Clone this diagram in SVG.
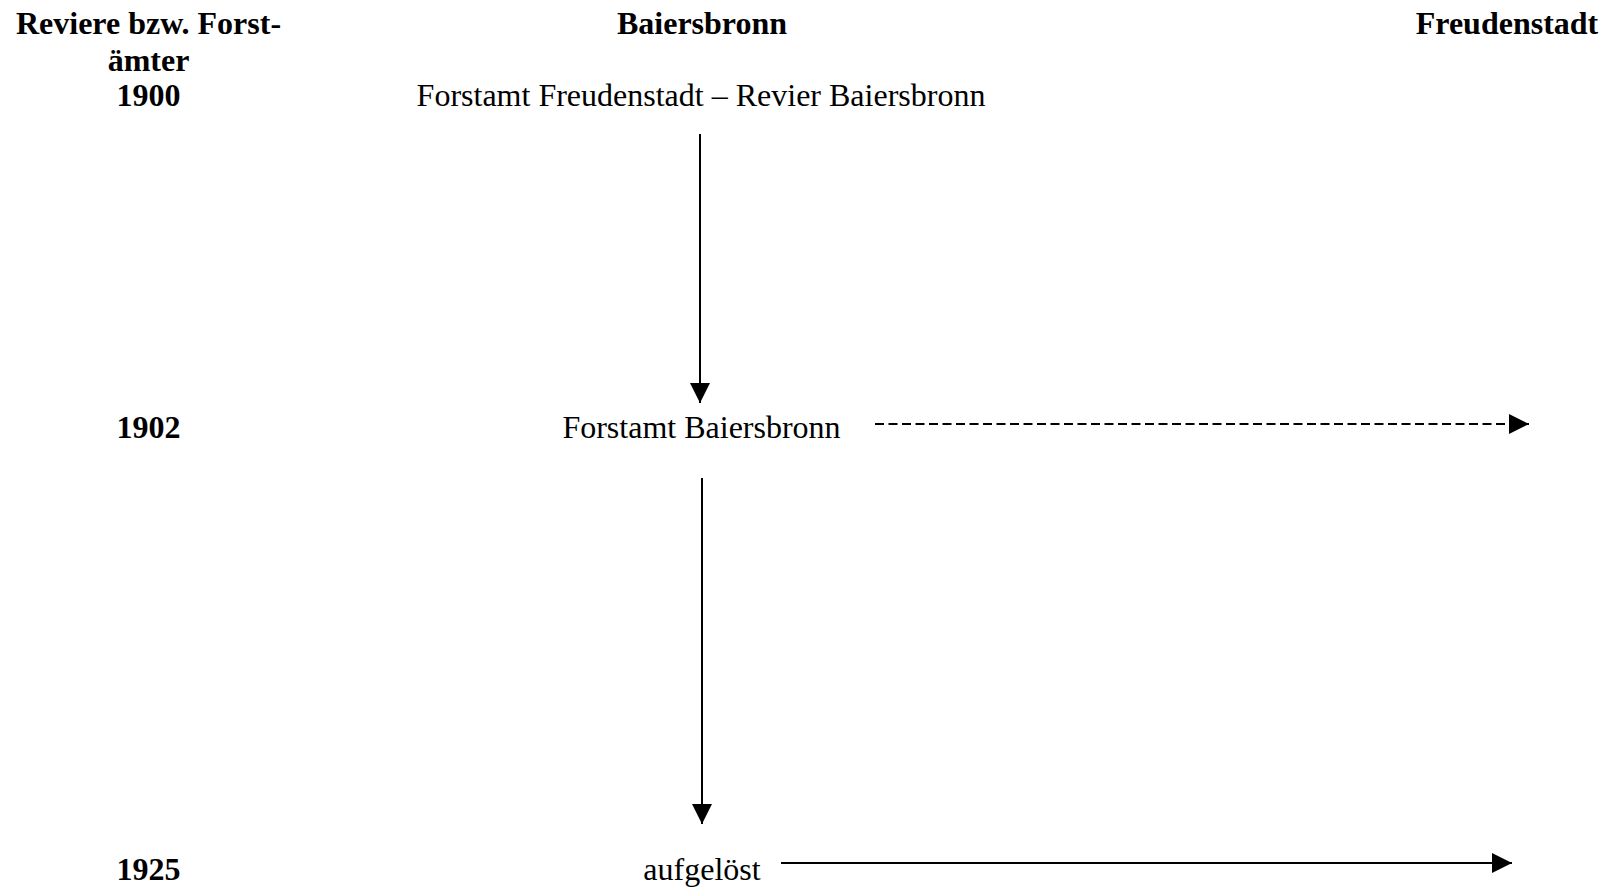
<svg xmlns="http://www.w3.org/2000/svg" width="1609" height="892" viewBox="0 0 1609 892">
<style>
text{font-family:"Liberation Serif","Times New Roman",serif;font-size:32px;fill:#000}
.b{font-weight:bold}
.c{text-anchor:middle}
.ln{stroke:#000;stroke-width:2;fill:none}
.d{stroke-dasharray:9 4.5}
</style>
<defs>
<marker id="ah2" viewBox="0 0 20 20" refX="20" refY="10" markerWidth="20" markerHeight="20" markerUnits="userSpaceOnUse" orient="auto">
<path d="M0,0 L20,10 L0,20 z" fill="#000"/>
</marker>
</defs>
<g id="header-left">
<text class="b c" x="148.5" y="34">Reviere bzw. Forst-</text>
<text class="b c" x="148.5" y="71">ämter</text>
</g>
<g id="header-baiersbronn"><text class="b c" x="702" y="34">Baiersbronn</text></g>
<g id="header-freudenstadt"><text class="b c" x="1507" y="34">Freudenstadt</text></g>
<g id="year-1900"><text class="b c" x="148.5" y="106">1900</text></g>
<g id="year-1902"><text class="b c" x="148.5" y="438">1902</text></g>
<g id="year-1925"><text class="b c" x="148.5" y="880">1925</text></g>
<g id="node-revier"><text class="c" x="701" y="106">Forstamt Freudenstadt – Revier Baiersbronn</text></g>
<g id="node-forstamt"><text class="c" x="701.5" y="438">Forstamt Baiersbronn</text></g>
<g id="node-aufgeloest"><text class="c" x="702" y="880">aufgelöst</text></g>
<g id="connectors">
<line class="ln" x1="700" y1="134" x2="700" y2="403" marker-end="url(#ah2)"/>
<line class="ln" x1="702" y1="478" x2="702" y2="824" marker-end="url(#ah2)"/>
<line class="ln d" x1="875" y1="424" x2="1529" y2="424" marker-end="url(#ah2)"/>
<line class="ln" x1="781" y1="863" x2="1512" y2="863" marker-end="url(#ah2)"/>
</g>
</svg>
